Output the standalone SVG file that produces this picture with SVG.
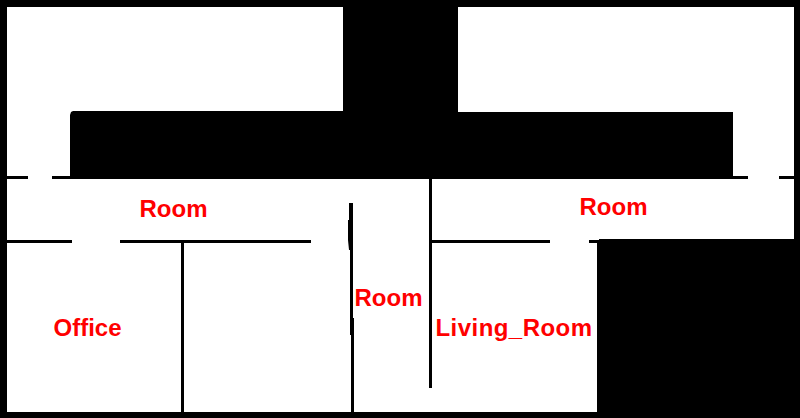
<svg xmlns="http://www.w3.org/2000/svg" width="800" height="418" viewBox="0 0 800 418">
<style>
.w{fill:#fff}
.k{fill:#000}
.t{font-family:"Liberation Sans",Arial,sans-serif;font-weight:700;font-size:24px;fill:#f00}
</style>
<rect width="800" height="418" class="k"/>
<path class="w" d="M7 7H343V111H73L71 112L70 115V179H7Z"/>
<path class="w" d="M458 7H794V239H599V243H597V412H7V179H733V112H458Z"/>
<g id="walls">
<rect class="k" x="7" y="176" width="21" height="3"/>
<rect class="k" x="52" y="176" width="18" height="3"/>
<rect class="k" x="733" y="176" width="15" height="3"/>
<rect class="k" x="779" y="176" width="15" height="3"/>
<rect class="k" x="7" y="240" width="65" height="3"/>
<rect class="k" x="120" y="240" width="191" height="3"/>
<rect class="k" x="181" y="243" width="3" height="169"/>
<path class="k" d="M349 203H353V412H351V335H350V250H349L348 240V220H349Z"/>
<path class="k" d="M351 318H354V412H351Z"/>
<rect class="k" x="429" y="179" width="3" height="209"/>
<rect class="k" x="432" y="240" width="118" height="3"/>
<rect class="k" x="589" y="240" width="10" height="3"/>
</g>
<text class="t" x="139.500" y="217">Room</text>
<text class="t" x="579.500" y="215">Room</text>
<text class="t" x="354.500" y="306">Room</text>
<text class="t" x="53.500" y="336">Office</text>
<text class="t" x="435.500" y="336" style="letter-spacing:.45px">Living_Room</text>
</svg>
